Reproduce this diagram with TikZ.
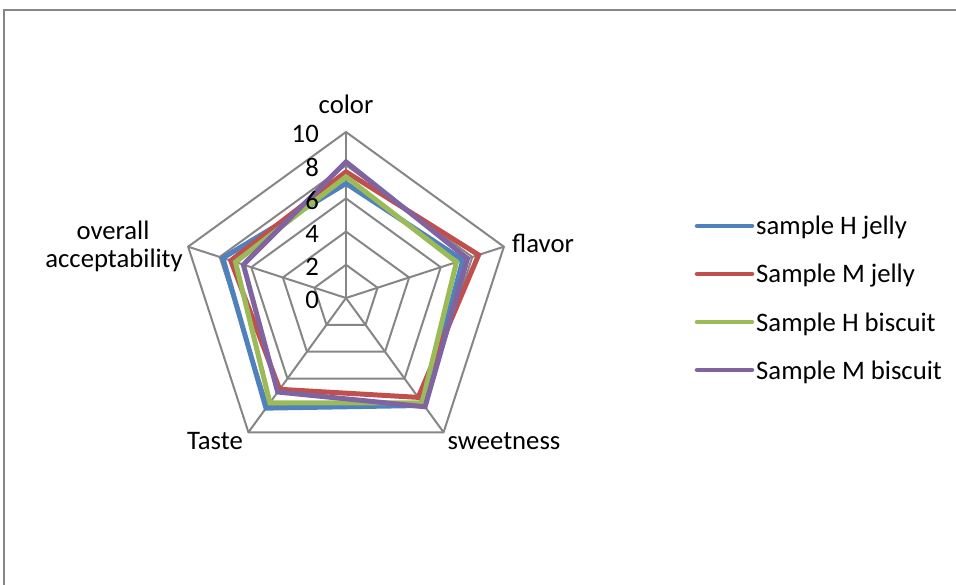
\documentclass[tikz,border=0pt]{standalone}
\usepackage{fontspec}
\setmainfont{Carlito}
\usetikzlibrary{calc}
\definecolor{gridg}{HTML}{868686}
\definecolor{hjelly}{HTML}{4F81BD}
\definecolor{mjelly}{HTML}{C0504D}
\definecolor{hbisc}{HTML}{9BBB59}
\definecolor{mbisc}{HTML}{8064A2}

\begin{document}
\begin{tikzpicture}[x=1pt, y=-1pt, font=\fontsize{26.7}{32}\selectfont,
        web/.style={gridg, line width=2pt},
        series/.style={line width=5pt, line join=miter},
        lbl/.style={inner sep=0pt}]
    \useasboundingbox (0,0) rectangle (956,585);
    \draw[gridg, line width=2.2pt] (4,585) -- (4,10) -- (956,10);
    \coordinate (c) at (346,298);
    % rings every 2 points, 16.6 per point
    \foreach \r in {2,4,...,10}
        \draw[web] ($(c)+(-90:\r*16.6)$) -- ($(c)+(-18:\r*16.6)$) -- ($(c)+(54:\r*16.6)$)
            -- ($(c)+(126:\r*16.6)$) -- ($(c)+(198:\r*16.6)$) -- cycle;
    \foreach \a in {-90,-18,54,126,198}
        \draw[web] (c) -- ($(c)+(\a:166)$);
    % the four samples
    \foreach \col/\u/\v/\w/\s/\t in {hjelly/6.9/7.4/8.0/8.2/7.8, mjelly/7.6/8.4/7.4/6.8/7.3,
            hbisc/7.3/7.0/7.8/7.8/7.0, mbisc/8.2/7.7/8.1/7.0/6.5}
        \draw[series, \col] ($(c)+(-90:\u*16.6)$) -- ($(c)+(-18:\v*16.6)$) -- ($(c)+(54:\w*16.6)$)
            -- ($(c)+(126:\s*16.6)$) -- ($(c)+(198:\t*16.6)$) -- cycle;
    \foreach \v in {0,2,...,10}
        \node[lbl, anchor=east] (t\v) at ($(c)+(-27,-\v*16.6+2)$) {\v};
    \node[lbl, anchor=base] (lcolor) at (346,114) {color};
    \node[lbl, anchor=base west] (lflavor) at (512,253) {flavor};
    \node[lbl, anchor=base] (lsweet) at (504,449) {sweetness};
    \node[lbl, anchor=base east] (ltaste) at (243,449) {Taste};
    \node[lbl, anchor=base] (loverall) at (113,240) {overall};
    \node[lbl, anchor=base east] (laccept) at (183,268) {acceptability};
    % legend
    \foreach \col/\txt/\y [count=\i] in {hjelly/sample H jelly/226, mjelly/Sample M jelly/274,
            hbisc/Sample H biscuit/322, mbisc/Sample M biscuit/370} {
        \draw[\col, line width=4.5pt, line cap=round] (697,\y) -- (752,\y);
        \node[lbl, anchor=base west] (leg\i) at (756,\y+9) {\txt};
    }
\end{tikzpicture}
\end{document}
